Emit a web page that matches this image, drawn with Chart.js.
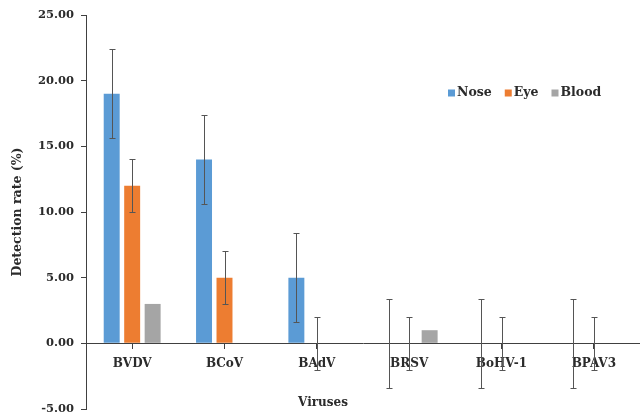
<!DOCTYPE html>
<html>
<head>
<meta charset="utf-8">
<script src="https://cdn.jsdelivr.net/npm/chart.js@4/dist/chart.umd.min.js"></script>
<style>
html,body{margin:0;padding:0;background:#fff;}
canvas{display:block;}
</style>
</head>
<body>
<canvas id="c" width="640" height="415"></canvas>
<script>
const categories = ['BVDV', 'BCoV', 'BAdV', 'BRSV', 'BoHV-1', 'BPAV3'];
const seriesNames = ['Nose', 'Eye', 'Blood'];
const nose = [19, 14, 5, 0, 0, 0];
const eye = [12, 5, 0, 0, 0, 0];
const blood = [3, 0, 0, 1, 0, 0];
const noseErr = [3.4, 3.4, 3.4, 3.4, 3.4, 3.4];
const eyeErr = [2, 2, 2, 2, 2, 2];
const bloodErr = [0, 0, 0, 0, 0, 0];
const yMin = -5, yMax = 25, yStep = 5;
const colors = ['#5B9BD5', '#ED7D31', '#A5A5A5'];

const FONT = 'DejaVu Serif';
const axisColor = '#404040';
const textColor = '#2b2b2b';

const errorBars = {
  id: 'errorBars',
  afterDatasetsDraw(chart) {
    const ctx = chart.ctx;
    const ys = chart.scales.y;
    ctx.save();
    ctx.strokeStyle = '#555555';
    ctx.lineWidth = 1;
    chart.data.datasets.forEach((ds, i) => {
      const meta = chart.getDatasetMeta(i);
      ds.errors.forEach((e, j) => {
        if (!e) return;
        const el = meta.data[j];
        const x = Math.round(el.x) + 0.5;
        const v = ds.data[j];
        const yt = Math.round(ys.getPixelForValue(v + e)) + 0.5;
        const yb = Math.round(ys.getPixelForValue(v - e)) + 0.5;
        ctx.beginPath();
        ctx.moveTo(x, yt); ctx.lineTo(x, yb);
        ctx.moveTo(x - 3, yt); ctx.lineTo(x + 3, yt);
        ctx.moveTo(x - 3, yb); ctx.lineTo(x + 3, yb);
        ctx.stroke();
      });
    });
    ctx.restore();
  }
};

const extras = {
  id: 'extras',
  afterDraw(chart) {
    const ctx = chart.ctx;
    ctx.save();
    ctx.font = 'bold 12px "' + FONT + '"';
    ctx.fillStyle = textColor;
    ctx.textAlign = 'center';
    ctx.textBaseline = 'middle';
    ctx.fillText('Viruses', 323, 403);
    // legend
    ctx.font = 'bold 12.5px "' + FONT + '"';
    ctx.textAlign = 'left';
    let x = 448;
    const y = 93;
    chart.data.datasets.forEach((ds, i) => {
      ctx.fillStyle = ds.backgroundColor;
      ctx.fillRect(x, y - 3.5, 7, 7);
      ctx.fillStyle = textColor;
      ctx.fillText(ds.label, x + 9, y);
      x += 9 + ctx.measureText(ds.label).width + 13;
    });
    ctx.restore();
  }
};

const errs = [noseErr, eyeErr, bloodErr];
const vals = [nose, eye, blood];

new Chart(document.getElementById('c'), {
  type: 'bar',
  data: {
    labels: categories,
    datasets: seriesNames.map((n, i) => ({
      label: n,
      data: vals[i],
      errors: errs[i],
      backgroundColor: colors[i],
      borderWidth: 0,
      categoryPercentage: 0.665,
      barPercentage: 0.78
    }))
  },
  options: {
    responsive: false,
    animation: false,
    layout: { padding: { top: 15, left: 0, right: 0, bottom: 6 } },
    plugins: { legend: { display: false }, tooltip: { enabled: false } },
    scales: {
      y: {
        min: yMin, max: yMax,
        ticks: {
          stepSize: yStep,
          callback: v => Number(v).toFixed(2),
          font: { family: FONT, weight: 'bold', size: 11.5 },
          color: textColor,
          padding: 7
        },
        grid: { drawOnChartArea: false, drawTicks: true, tickLength: 5, color: axisColor },
        border: { color: axisColor, width: 1 },
        title: {
          display: true, text: 'Detection rate (%)',
          font: { family: FONT, weight: 'bold', size: 12.5 },
          color: textColor, padding: { top: 10, bottom: 0 }
        },
        afterFit(s) { s.width = 86; s.paddingTop = 0; s.paddingBottom = 0; }
      },
      x: {
        position: { y: 0 },
        ticks: {
          font: { family: FONT, weight: 'bold', size: 12 },
          color: textColor,
          padding: 8
        },
        grid: { offset: false, drawOnChartArea: false, drawTicks: true, tickLength: 5, color: axisColor },
        border: { color: axisColor, width: 1 },
        afterFit(s) { s.paddingLeft = 0; s.paddingRight = 0; }
      }
    }
  },
  plugins: [errorBars, extras]
});
</script>
</body>
</html>
